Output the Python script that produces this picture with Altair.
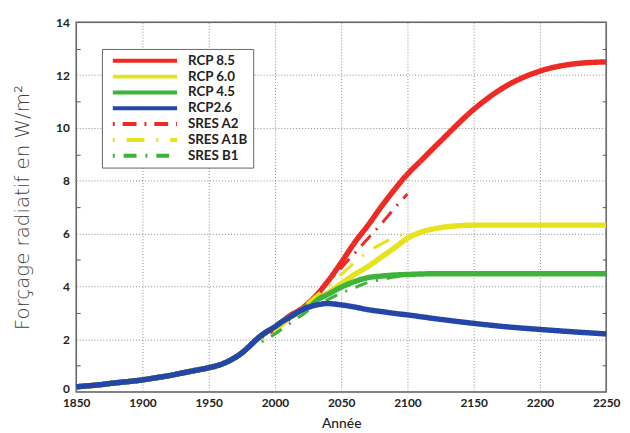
import altair as alt
import pandas as pd

# ---------------- data ----------------
hist_years = [1850, 1860, 1870, 1880, 1890, 1900, 1910, 1920, 1930, 1940, 1950, 1955,
              1960, 1965, 1970, 1975, 1980, 1985, 1990, 1995, 2000, 2005]
hist_values = [0.20, 0.24, 0.29, 0.35, 0.40, 0.46, 0.54, 0.62, 0.72, 0.82, 0.92, 0.98,
               1.06, 1.17, 1.31, 1.48, 1.70, 1.94, 2.15, 2.32, 2.47, 2.65]

rcp85_years = [2010, 2020, 2030, 2040, 2050, 2060, 2070, 2080, 2090, 2100, 2110, 2125,
               2150, 2175, 2200, 2225, 2250]
rcp85_values = [2.85, 3.15, 3.6, 4.2, 4.9, 5.65, 6.3, 7.0, 7.65, 8.25, 8.75, 9.5,
                10.7, 11.6, 12.15, 12.42, 12.5]

rcp60_years = [2010, 2020, 2030, 2040, 2050, 2060, 2070, 2080, 2090, 2100, 2110, 2120,
               2130, 2140, 2150, 2200, 2250]
rcp60_values = [2.8, 3.1, 3.45, 3.75, 4.1, 4.45, 4.75, 5.1, 5.45, 5.82, 6.05, 6.18,
                6.26, 6.3, 6.32, 6.32, 6.32]

rcp45_years = [2010, 2020, 2030, 2040, 2050, 2060, 2070, 2080, 2090, 2100, 2110, 2125,
               2150, 2200, 2250]
rcp45_values = [2.8, 3.1, 3.45, 3.7, 3.97, 4.18, 4.33, 4.39, 4.43, 4.45, 4.47, 4.48,
                4.48, 4.48, 4.48]

rcp26_years = [2010, 2020, 2030, 2040, 2050, 2060, 2070, 2080, 2090, 2100, 2125, 2150,
               2175, 2200, 2225, 2250]
rcp26_values = [2.8, 3.1, 3.28, 3.35, 3.3, 3.22, 3.12, 3.05, 2.98, 2.92, 2.75, 2.6,
                2.47, 2.37, 2.28, 2.2]

sres_years = [1990, 2000, 2010, 2020, 2030, 2040, 2050, 2060, 2070, 2080, 2090, 2100]
sres_a2_values = [2.05, 2.35, 2.7, 3.1, 3.6, 4.15, 4.7, 5.25, 5.8, 6.35, 6.95, 7.5]
sres_a1b_values = [2.0, 2.3, 2.7, 3.15, 3.6, 4.0, 4.45, 4.9, 5.3, 5.6, 5.85, 6.05]
sres_b1_values = [1.9, 2.2, 2.55, 2.9, 3.25, 3.5, 3.75, 3.95, 4.15, 4.25, 4.35, 4.4]

series_names = ["RCP 8.5", "RCP 6.0", "RCP 4.5", "RCP2.6", "SRES A2", "SRES A1B", "SRES B1"]
series_colors = ["#ee2a24", "#e6e21c", "#3db33a", "#2346a8", "#ee2a24", "#e6e21c", "#3db33a"]
series_dashes = [[1, 0], [1, 0], [1, 0], [1, 0], [2, 8, 14, 8], [2, 12, 18, 12], [2, 9, 13, 9]]

x_ticks = [1850, 1900, 1950, 2000, 2050, 2100, 2150, 2200, 2250]
y_ticks = list(range(0, 15))
y_minor = [1, 3, 5, 7, 9, 11, 13]

# ---------------- table ----------------
rows = []
for name, yrs, vals in [("RCP 8.5", rcp85_years, rcp85_values),
                        ("RCP 6.0", rcp60_years, rcp60_values),
                        ("RCP 4.5", rcp45_years, rcp45_values),
                        ("RCP2.6", rcp26_years, rcp26_values)]:
    for y, v in zip(hist_years + yrs, hist_values + vals):
        rows.append({"series": name, "year": y, "value": v})
for name, vals in [("SRES A2", sres_a2_values), ("SRES A1B", sres_a1b_values),
                   ("SRES B1", sres_b1_values)]:
    for y, v in zip(sres_years, vals):
        rows.append({"series": name, "year": y, "value": v})
df = pd.DataFrame(rows)

FONT = "Lato"

x_enc = alt.X("year:Q",
              scale=alt.Scale(domain=[1850, 2250], nice=False, zero=False),
              axis=alt.Axis(values=x_ticks, format="d", grid=True, ticks=False, domain=False,
                            gridDash=[1, 2], gridColor="#8a8a8a", gridWidth=1,
                            labelFont=FONT, labelFontWeight="bold", labelFontSize=12,
                            labelColor="#222", labelPadding=6, labelFlush=False,
                            title="Année", titleFont=FONT, titleFontSize=14,
                            titleFontWeight=500, titleColor="#222", titlePadding=8))

y_scale = alt.Scale(domain=[0, 14], nice=False, zero=True)

y_main = alt.Y("value:Q", scale=y_scale,
               axis=alt.Axis(values=y_ticks, grid=True, domain=False, orient="left",
                             offset=-4, tickSize=4, tickColor="#555", tickWidth=1,
                             tickOpacity={"condition": {"test": "datum.value % 2 === 1", "value": 1}, "value": 0},
                             gridOpacity={"condition": {"test": "datum.value % 2 === 1", "value": 0}, "value": 1},
                             labelOffset={"condition": {"test": "datum.value === 0", "value": -4}, "value": 0},
                             gridDash=[1, 2], gridColor="#8a8a8a", gridWidth=1,
                             labelExpr="datum.value % 2 === 0 ? datum.label : ''",
                             labelFont=FONT, labelFontWeight="bold", labelFontSize=12,
                             labelColor="#222", labelPadding=7, labelFlush=False,
                             title="Forçage radiatif en W/m²", titleFont="DejaVu Sans",
                             titleFontWeight=200, titleFontSize=20, titleColor="#444",
                             titlePadding=23))

y_none = alt.Y("value:Q", scale=y_scale, axis=None)

y_right = alt.Y("value:Q", scale=y_scale,
                axis=alt.Axis(values=y_minor, orient="right", offset=-4, tickSize=4,
                              tickColor="#555", tickWidth=1, labels=False, grid=False,
                              domain=False, title=None))

color_enc = alt.Color("series:N", scale=alt.Scale(domain=series_names, range=series_colors),
                      legend=alt.Legend(title=None))
dash_enc = alt.StrokeDash("series:N", scale=alt.Scale(domain=series_names, range=series_dashes),
                          legend=alt.Legend(title=None))

base = alt.Chart(df)

def layer(names, y, width):
    return base.mark_line(strokeCap="butt", strokeJoin="round", strokeWidth=width,
                          interpolate="monotone").encode(
        x=x_enc, y=y, color=color_enc, strokeDash=dash_enc
    ).transform_filter(alt.FieldOneOfPredicate(field="series", oneOf=names))

chart = alt.layer(
    layer(["RCP 8.5", "RCP 6.0", "RCP 4.5"], y_main, 5.5),
    layer(["SRES A2", "SRES A1B", "SRES B1"], y_none, 3),
    layer(["RCP2.6"], y_right, 5.5),
).resolve_axis(y="independent").properties(
    width=536, height=374,
    autosize=alt.AutoSizeParams(type="none"),
    padding={"left": 69, "top": 12, "right": 16, "bottom": 38},
).configure_view(
    stroke="#5a5a5a", strokeWidth=1.5
).configure_legend(
    orient="none", legendX=26, legendY=27,
    fillColor="white", strokeColor="#666", strokeWidth=1, padding=5,
    symbolType="stroke", symbolSize=4225, clipHeight=14, rowPadding=2,
    symbolOffset=4, labelOffset=9, symbolStrokeWidth=4,
    labelFont=FONT, labelFontSize=13.5, labelFontWeight="bold", labelColor="#222",
    cornerRadius=0
)

chart.save("out.html", embed_options={"renderer": "svg", "actions": False})
